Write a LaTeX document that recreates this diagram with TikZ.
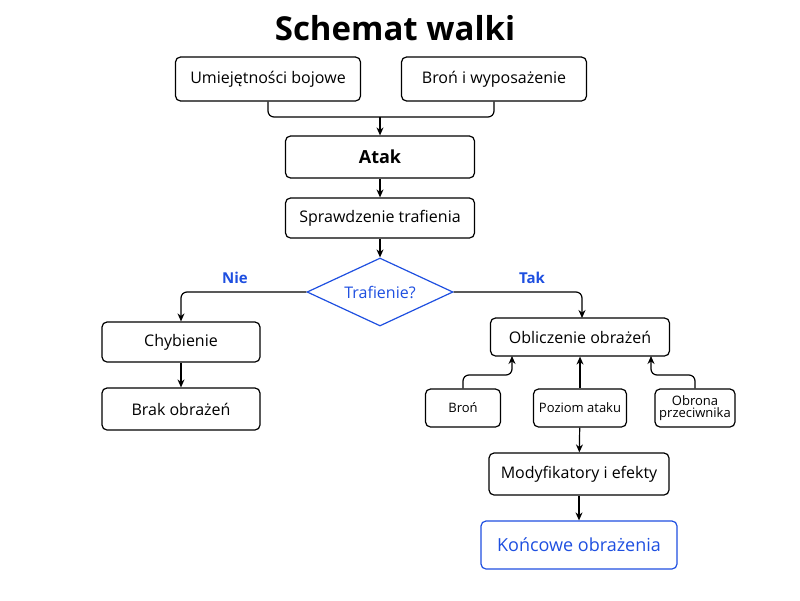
\documentclass[tikz,border=0pt]{standalone}
\usepackage{fontspec}
\setmainfont{Open Sans}
\usetikzlibrary{shapes.geometric,arrows.meta}
\definecolor{bl}{HTML}{1E4FE0}
\begin{document}
\begin{tikzpicture}[x=1pt,y=-1pt,
 box/.style={draw,rounded corners=5pt,line width=1.2pt,inner sep=0pt,font=\fontsize{16}{18}\selectfont,align=center},
 arr/.style={-{Stealth[length=8pt,width=7pt]},line width=1.2pt},
 ln/.style={line width=1.2pt,rounded corners=6pt}]
\useasboundingbox (0,0) rectangle (800,600);
\node[font=\fontsize{33}{36}\selectfont\bfseries] (t) at (395,28) {Schemat walki};
\node[box,minimum width=185pt,minimum height=44pt] (u) at (268,79) {Umiejętności bojowe};
\node[box,minimum width=185pt,minimum height=44pt] (b) at (494,79) {Broń i wyposażenie};
\node[box,minimum width=189pt,minimum height=42pt,font=\fontsize{18}{20}\selectfont\bfseries] (a) at (380,157) {Atak};
\node[box,minimum width=189pt,minimum height=40pt] (s) at (380,218) {Sprawdzenie trafienia};
\node[diamond,draw=bl,line width=1.2pt,text=bl,minimum width=146pt,minimum height=68pt,inner sep=0pt,aspect=2.15,font=\fontsize{16}{18}\selectfont] (d) at (380,292) {Trafienie?};
\node[box,minimum width=158pt,minimum height=40pt] (c) at (181,342) {Chybienie};
\node[box,minimum width=158pt,minimum height=42pt] (br) at (181,409) {Brak obrażeń};
\node[box,minimum width=179pt,minimum height=38pt] (o) at (580,337) {Obliczenie obrażeń};
\node[box,minimum width=75pt,minimum height=38pt,font=\fontsize{13}{14}\selectfont] (w) at (463,408) {Broń};
\node[box,minimum width=93pt,minimum height=38pt,font=\fontsize{13}{14}\selectfont] (p) at (580,408) {Poziom ataku};
\node[box,minimum width=80pt,minimum height=38pt,font=\fontsize{13}{14}\selectfont] (ob) at (695,408) {Obrona\\[-2pt]przeciwnika};
\node[box,minimum width=180pt,minimum height=42pt] (m) at (579,474) {Modyfikatory i efekty};
\node[box,draw=bl,text=bl,minimum width=196pt,minimum height=48pt,font=\fontsize{18}{20}\selectfont] (k) at (579,545) {Końcowe obrażenia};
\coordinate (j) at (380,117);
\draw[ln] (u.south) |- (j) -| (b.south);
\draw[arr] (j) -- (a.north);
\draw[arr] (a) -- (s);
\draw[arr] (s) -- (d);
\draw[arr,rounded corners=6pt] (d.west) -| (c.north);
\draw[arr,rounded corners=6pt] (d.east) -| (582,318);
\node[text=bl,font=\fontsize{15}{17}\selectfont\bfseries] (nie) at (235,278) {Nie};
\node[text=bl,font=\fontsize{15}{17}\selectfont\bfseries] (tak) at (532,278) {Tak};
\draw[arr] (c) -- (br);
\draw[arr,rounded corners=6pt] (w.north) |- (512,375) -- (512,356);
\draw[arr] (p) -- (o);
\draw[arr,rounded corners=6pt] (ob.north) |- (651,375) -- (651,356);
\draw[arr] (p) -- (m);
\draw[arr] (m) -- (k);
\end{tikzpicture}
\end{document}
